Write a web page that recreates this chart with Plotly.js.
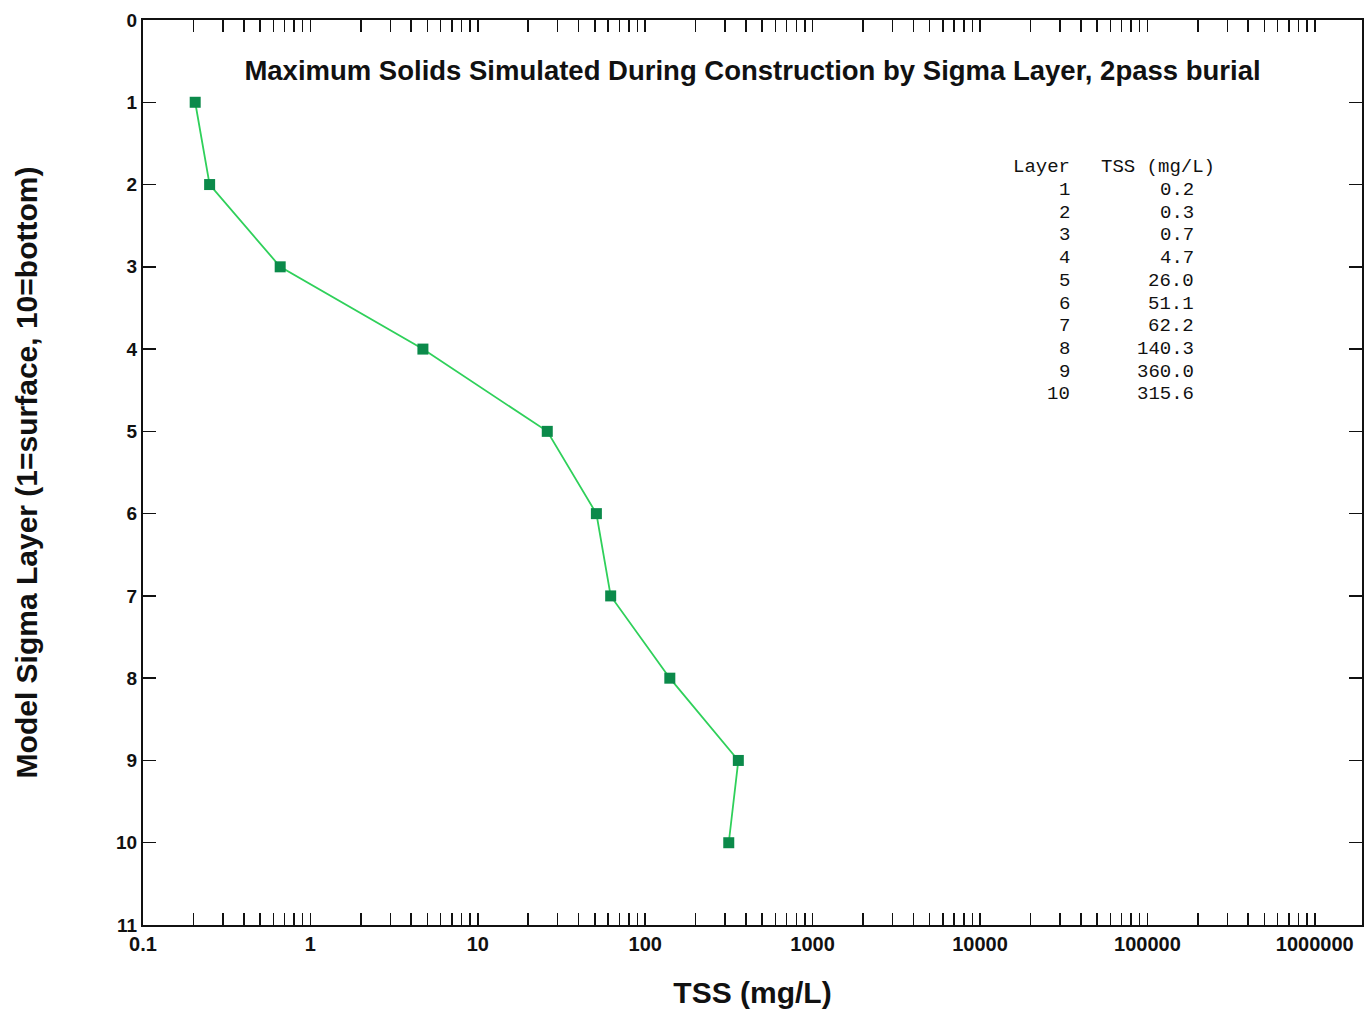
<!DOCTYPE html>
<html>
<head>
<meta charset="utf-8">
<script src="https://cdn.plot.ly/plotly-3.0.1.min.js"></script>
<style>html,body{margin:0;padding:0;background:#fff}#chart{width:1364px;height:1013px}</style>
</head>
<body>
<div id="chart"></div>
<script>
// Data
const layers = [1, 2, 3, 4, 5, 6, 7, 8, 9, 10];
const tssPlotted = [0.205, 0.25, 0.66, 4.7, 26.0, 51.1, 62.2, 140.3, 360.0, 315.6];
const tableTss = ["0.2", "0.3", "0.7", "4.7", "26.0", "51.1", "62.2", "140.3", "360.0", "315.6"];
const decadeLabels = ["0.1", "1", "10", "100", "1000", "10000", "100000", "1000000"];
const yTicks = [0, 1, 2, 3, 4, 5, 6, 7, 8, 9, 10, 11];

// build log tick positions (1..9 per decade), labels only at decades
const xTickVals = [], xTickText = [];
for (let d = -1; d <= 6; d++) {
  for (let m = 1; m <= 9; m++) {
    if (d === 6 && m > 1) break;
    xTickVals.push(m * Math.pow(10, d));
    xTickText.push(m === 1 ? decadeLabels[d + 1] : "");
  }
}

const trace = {
  x: tssPlotted, y: layers, type: 'scatter', mode: 'lines+markers',
  line: {color: '#2fd05a', width: 1.8},
  marker: {symbol: 'square', size: 11, color: '#0b8a4a'},
  hoverinfo: 'x+y'
};

// table annotations
const L = 143, R = 1362, T = 20, B = 925;
const px2x = p => (p - L) / (R - L);
const px2y = p => (B - p) / (B - T);
const monoFont = {family: 'Liberation Mono, Courier New, monospace', size: 19, color: '#111'};
const ann = [];
ann.push({xref:'paper', yref:'paper', x: px2x(1072), y: px2y(167), xanchor:'right', yanchor:'middle', text:'Layer', showarrow:false, font: monoFont});
ann.push({xref:'paper', yref:'paper', x: px2x(1217), y: px2y(167), xanchor:'right', yanchor:'middle', text:'TSS (mg/L)', showarrow:false, font: monoFont});
layers.forEach((l, i) => {
  const yp = 190 + i * 22.7;
  ann.push({xref:'paper', yref:'paper', x: px2x(1072), y: px2y(yp), xanchor:'right', yanchor:'middle', text:String(l), showarrow:false, font: monoFont});
  ann.push({xref:'paper', yref:'paper', x: px2x(1196), y: px2y(yp), xanchor:'right', yanchor:'middle', text:tableTss[i], showarrow:false, font: monoFont});
});

const layout = {
  width: 1364, height: 1013,
  margin: {l: L, r: 1364 - R, t: T, b: 1013 - B},
  paper_bgcolor: '#fff', plot_bgcolor: '#fff',
  showlegend: false,
  title: {
    text: '<b>Maximum Solids Simulated During Construction by Sigma Layer, 2pass burial</b>',
    font: {family: 'Liberation Sans, Arial, sans-serif', size: 27.5, color: '#111'},
    x: 0.5, xanchor: 'center', xref: 'paper',
    y: 1 - 70 / 1013, yanchor: 'middle', yref: 'container'
  },
  xaxis: {
    type: 'log', range: [-1, -1 + (R - L) / 167.4],
    tickvals: xTickVals, ticktext: xTickText,
    ticks: 'inside', ticklen: 12, tickwidth: 1.5, tickcolor: '#111',
    showline: true, linecolor: '#111', linewidth: 2, mirror: 'ticks',
    showgrid: false, zeroline: false,
    tickfont: {family: 'Liberation Sans, Arial, sans-serif', size: 20, color: '#111', weight: 'bold'},
    title: {text: '<b>TSS (mg/L)</b>', font: {family: 'Liberation Sans, Arial, sans-serif', size: 30, color: '#111'}, standoff: 28}
  },
  yaxis: {
    range: [11, 0], tickvals: yTicks,
    ticks: 'inside', ticklen: 13, tickwidth: 1.5, tickcolor: '#111',
    showline: true, linecolor: '#111', linewidth: 2, mirror: 'ticks',
    showgrid: false, zeroline: false,
    tickfont: {family: 'Liberation Sans, Arial, sans-serif', size: 19, color: '#111', weight: 'bold'},
    title: {text: '<b>Model Sigma Layer (1=surface, 10=bottom)</b>', font: {family: 'Liberation Sans, Arial, sans-serif', size: 30, color: '#111'}, standoff: 70}
  },
  annotations: ann
};

Plotly.newPlot('chart', [trace], layout, {displayModeBar: false, staticPlot: true});
</script>
</body>
</html>
